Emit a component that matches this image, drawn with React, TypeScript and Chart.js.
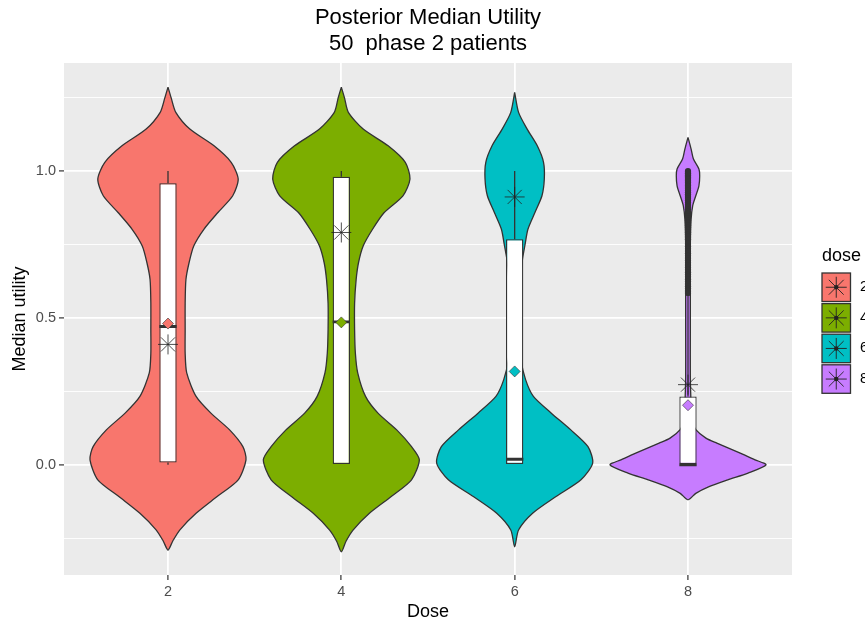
import React, { useEffect, useRef } from 'react';
import { Chart, registerables } from 'chart.js';

Chart.register(...registerables);

const FONT = '"Liberation Sans", Arial, Helvetica, sans-serif';

// ---------- data ----------
const doseLabels = ['2', '4', '6', '8'];
const doseColors = ['#F8766D', '#7CAE00', '#00BFC4', '#C77CFF'];

// violin profiles: utility value (y) and relative density (1 = widest)
const violinY2 = [1.286, 1.25, 1.2, 1.143, 1.086, 1.03, 0.973, 0.916, 0.859, 0.802, 0.745, 0.688, 0.631, 0.55, 0.461, 0.38, 0.313, 0.233, 0.176, 0.119, 0.062, 0.017, -0.051, -0.108, -0.165, -0.222, -0.26, -0.29];
const violinD2 = [0, 0.04, 0.1, 0.28, 0.59, 0.81, 0.9, 0.83, 0.64, 0.46, 0.33, 0.27, 0.23, 0.22, 0.22, 0.22, 0.24, 0.36, 0.55, 0.79, 0.96, 1.0, 0.9, 0.63, 0.36, 0.15, 0.06, 0];

const violinY4 = [1.286, 1.25, 1.2, 1.143, 1.086, 1.03, 0.973, 0.916, 0.859, 0.802, 0.745, 0.688, 0.631, 0.55, 0.461, 0.38, 0.313, 0.233, 0.176, 0.119, 0.062, 0.017, -0.051, -0.108, -0.165, -0.222, -0.26, -0.296];
const violinD4 = [0, 0.04, 0.09, 0.28, 0.6, 0.82, 0.88, 0.79, 0.55, 0.4, 0.28, 0.22, 0.19, 0.17, 0.17, 0.18, 0.21, 0.31, 0.47, 0.71, 0.9, 1.0, 0.9, 0.64, 0.36, 0.15, 0.06, 0];

const violinY6 = [1.268, 1.2, 1.143, 1.086, 1.03, 0.973, 0.916, 0.859, 0.802, 0.745, 0.7, 0.65, 0.55, 0.45, 0.36, 0.29, 0.233, 0.176, 0.119, 0.062, 0.006, -0.051, -0.108, -0.165, -0.222, -0.279];
const violinD6 = [0, 0.05, 0.16, 0.29, 0.37, 0.38, 0.35, 0.26, 0.17, 0.13, 0.1, 0.08, 0.06, 0.06, 0.08, 0.14, 0.24, 0.47, 0.72, 0.94, 1.0, 0.85, 0.53, 0.23, 0.05, 0];

const violinY8 = [1.115, 1.075, 1.041, 1.007, 0.984, 0.95, 0.916, 0.882, 0.836, 0.75, 0.6, 0.45, 0.3, 0.2, 0.15, 0.12, 0.091, 0.074, 0.04, 0.017, 0.0, -0.028, -0.051, -0.074, -0.097, -0.119];
const violinD8 = [0, 0.04, 0.07, 0.14, 0.15, 0.14, 0.1, 0.06, 0.04, 0.03, 0.03, 0.03, 0.03, 0.04, 0.05, 0.1, 0.23, 0.37, 0.67, 0.86, 1.0, 0.77, 0.51, 0.27, 0.1, 0];

// boxplot statistics
const boxQ1 = [0.008, 0.0, 0.0, 0.0];
const boxMedian = [0.471, 0.487, 0.019, 0.0];
const boxQ3 = [0.959, 0.981, 0.768, 0.233];
const whiskerLow = [0.0, 0.0, 0.0, 0.0];
const whiskerHigh = [1.0, 1.0, 1.0, 0.58];

// outliers for dose 8
const outliers8 = [1.0, 0.997, 0.993, 0.99, 0.986, 0.982, 0.978, 0.974, 0.97, 0.966, 0.961, 0.956, 0.951, 0.946, 0.94, 0.934, 0.928, 0.921, 0.915, 0.908, 0.9, 0.893, 0.885, 0.878, 0.87, 0.862, 0.855, 0.847, 0.84, 0.832, 0.824, 0.816, 0.808, 0.8, 0.792, 0.784, 0.776, 0.768, 0.752, 0.744, 0.736, 0.728, 0.72, 0.712, 0.704, 0.696, 0.688, 0.68, 0.672, 0.664, 0.656, 0.648, 0.64, 0.632, 0.624, 0.616, 0.608, 0.6, 0.592, 0.585];

// mean (diamond) and asterisk points
const meanValues = [0.481, 0.485, 0.318, 0.203];
const starValues = [0.41, 0.791, 0.912, 0.273];

// axis ticks
const yMajorTicks = [0, 0.5, 1.0];
const yMinorTicks = [-0.25, 0.25, 0.75, 1.25];

const titleLines = ['Posterior Median Utility', '50  phase 2 patients'];
const xTitle = 'Dose';
const yTitle = 'Median utility';
const legendTitle = 'dose';

// ---------- geometry helpers ----------
const VIOLIN_HALF = 0.45;
const BOX_HALF = 0.05;

function violinPolygon(center: number, ys: number[], ds: number[]) {
  const right = ys.map((y, k) => ({ x: center + VIOLIN_HALF * ds[k], y }));
  const left: { x: number; y: number }[] = [];
  for (let k = ys.length - 2; k >= 0; k--) left.push({ x: center - VIOLIN_HALF * ds[k], y: ys[k] });
  return right.concat(left);
}

const violinSets = [
  [violinY2, violinD2],
  [violinY4, violinD4],
  [violinY6, violinD6],
  [violinY8, violinD8],
];

const panelPlugin = {
  id: 'panelBg',
  beforeDraw(chart: any) {
    const { ctx, chartArea: a } = chart;
    ctx.save();
    ctx.fillStyle = '#EBEBEB';
    ctx.fillRect(a.left, a.top, a.right - a.left, a.bottom - a.top);
    ctx.restore();
  },
};

function drawAsterisk(ctx: CanvasRenderingContext2D, x: number, y: number, r: number) {
  ctx.beginPath();
  for (let k = 0; k < 4; k++) {
    const ang = (k * Math.PI) / 4;
    ctx.moveTo(x - Math.cos(ang) * r, y - Math.sin(ang) * r);
    ctx.lineTo(x + Math.cos(ang) * r, y + Math.sin(ang) * r);
  }
  ctx.stroke();
}

const annotPlugin = {
  id: 'titleLegend',
  afterDraw(chart: any) {
    const { ctx, chartArea: a } = chart;
    ctx.save();
    // title
    ctx.fillStyle = '#000';
    ctx.font = `22px ${FONT}`;
    ctx.textAlign = 'center';
    ctx.textBaseline = 'middle';
    const cx = (a.left + a.right) / 2;
    titleLines.forEach((t, i) => ctx.fillText(t, cx, 18 + i * 26));

    // legend
    const midY = (a.top + a.bottom) / 2;
    const left = a.right + 30;
    const key = 28.5;
    const step = 30.6;
    const top0 = midY - 46;
    ctx.textAlign = 'left';
    ctx.font = `18px ${FONT}`;
    ctx.fillText(legendTitle, left, top0 - 17);
    doseLabels.forEach((lab, i) => {
      const ky = top0 + i * step;
      ctx.fillStyle = doseColors[i];
      ctx.fillRect(left, ky, key, key);
      ctx.strokeStyle = '#333';
      ctx.lineWidth = 1.3;
      ctx.strokeRect(left, ky, key, key);
      ctx.strokeStyle = '#222';
      ctx.lineWidth = 0.9;
      drawAsterisk(ctx, left + key / 2, ky + key / 2, 10.5);
      ctx.fillStyle = '#222';
      ctx.beginPath();
      ctx.arc(left + key / 2, ky + key / 2, 2.2, 0, Math.PI * 2);
      ctx.fill();
      ctx.fillStyle = '#000';
      ctx.font = `14.5px ${FONT}`;
      ctx.fillText(lab, left + key + 9.5, ky + key / 2);
    });
    ctx.restore();
  },
};

export default function App() {
  const ref = useRef<HTMLCanvasElement | null>(null);

  useEffect(() => {
    if (!ref.current) return;
    Chart.defaults.font.family = FONT;

    const violinDatasets = violinSets.map(([ys, ds], i) => ({
      type: 'line' as const,
      label: `violin ${doseLabels[i]}`,
      data: violinPolygon(i + 1, ys, ds),
      borderColor: '#333333',
      borderWidth: 1.3,
      backgroundColor: doseColors[i],
      fill: 'shape',
      pointRadius: 0,
      tension: 0.25,
      order: 10,
    }));

    const whiskerData: any[] = [];
    const medianData: any[] = [];
    doseLabels.forEach((_, i) => {
      const c = i + 1;
      whiskerData.push({ x: c, y: whiskerLow[i] }, { x: c, y: boxQ1[i] }, { x: c, y: null });
      whiskerData.push({ x: c, y: boxQ3[i] }, { x: c, y: whiskerHigh[i] }, { x: c, y: null });
      medianData.push({ x: c - BOX_HALF, y: boxMedian[i] }, { x: c + BOX_HALF, y: boxMedian[i] }, { x: c, y: null });
    });

    const chart = new Chart(ref.current, {
      type: 'line',
      data: {
        datasets: [
          ...violinDatasets,
          {
            type: 'bar',
            label: 'box',
            data: doseLabels.map((_, i) => ({ x: i + 1, y: [boxQ1[i], boxQ3[i]] })),
            backgroundColor: '#FFFFFF',
            borderColor: '#333333',
            borderWidth: 1.3,
            borderSkipped: false,
            barPercentage: BOX_HALF * 2,
            categoryPercentage: 1,
            order: 8,
          },
          {
            type: 'line',
            label: 'whiskers',
            data: whiskerData,
            borderColor: '#333333',
            borderWidth: 1.3,
            pointRadius: 0,
            fill: false,
            spanGaps: false,
            order: 9,
          },
          {
            type: 'line',
            label: 'median',
            data: medianData,
            borderColor: '#333333',
            borderWidth: 2.8,
            pointRadius: 0,
            fill: false,
            spanGaps: false,
            order: 7,
          },
          {
            type: 'scatter',
            label: 'outliers',
            data: outliers8.map((v) => ({ x: 4, y: v })),
            backgroundColor: '#333333',
            borderWidth: 0,
            pointRadius: 3.1,
            order: 6,
          },
          {
            type: 'scatter',
            label: 'mean',
            data: meanValues.map((v, i) => ({ x: i + 1, y: v })),
            pointStyle: 'rectRot',
            pointRadius: 5.5,
            pointBackgroundColor: doseColors,
            pointBorderColor: '#333333',
            pointBorderWidth: 0.6,
            order: 5,
          },
          {
            type: 'scatter',
            label: 'asterisk',
            data: starValues.map((v, i) => ({ x: i + 1, y: v })),
            pointStyle: 'star',
            pointRadius: 10,
            pointBorderColor: '#222222',
            pointBorderWidth: 0.8,
            order: 4,
          },
        ] as any,
      },
      options: {
        animation: false,
        responsive: false,
        devicePixelRatio: 1,
        events: [],
        layout: { padding: { top: 63, right: 73, left: 0, bottom: 0 } },
        plugins: { legend: { display: false }, title: { display: false }, tooltip: { enabled: false } },
        scales: {
          x: {
            type: 'linear',
            min: 0.4,
            max: 4.6,
            offset: false,
            afterBuildTicks: (s: any) => {
              s.ticks = doseLabels.map((_, i) => ({ value: i + 1 }));
            },
            afterFit: (s: any) => {
              s.height = 51;
            },
            ticks: {
              callback: (v: any) => doseLabels[Math.round(Number(v)) - 1] ?? '',
              color: '#4D4D4D',
              font: { size: 14.5 },
              padding: 3,
              maxRotation: 0,
              autoSkip: false,
            },
            grid: { offset: false, color: '#FFFFFF', lineWidth: 1.8, tickColor: '#333333', tickLength: 5, tickWidth: 1.2 },
            border: { display: false },
            title: { display: true, text: xTitle, color: '#000', font: { size: 18 }, padding: { top: 0, bottom: 3 } },
          },
          y: {
            type: 'linear',
            min: -0.375,
            max: 1.368,
            afterBuildTicks: (s: any) => {
              s.ticks = [...yMinorTicks, ...yMajorTicks].sort((p, q) => p - q).map((v) => ({ value: v }));
            },
            afterFit: (s: any) => {
              s.width = 64;
            },
            ticks: {
              callback: (v: any) => (yMajorTicks.includes(Number(v)) ? Number(v).toFixed(1) : ''),
              color: '#4D4D4D',
              font: { size: 14.5 },
              padding: 3,
              autoSkip: false,
            },
            grid: {
              color: '#FFFFFF',
              lineWidth: (c: any) => (yMajorTicks.includes(c.tick?.value) ? 1.8 : 0.9),
              tickColor: (c: any) => (yMajorTicks.includes(c.tick?.value) ? '#333333' : 'rgba(0,0,0,0)'),
              tickLength: 5,
              tickWidth: 1.2,
            },
            border: { display: false },
            title: { display: true, text: yTitle, color: '#000', font: { size: 18 }, padding: { top: 9, bottom: 0 } },
          },
        },
      } as any,
      plugins: [panelPlugin, annotPlugin],
    });
    return () => chart.destroy();
  }, []);

  return (
    <div style={{ position: 'absolute', left: 0, top: 0, width: 865, height: 626, background: '#fff' }}>
      <canvas ref={ref} width={865} height={626} style={{ display: 'block' }} />
    </div>
  );
}
